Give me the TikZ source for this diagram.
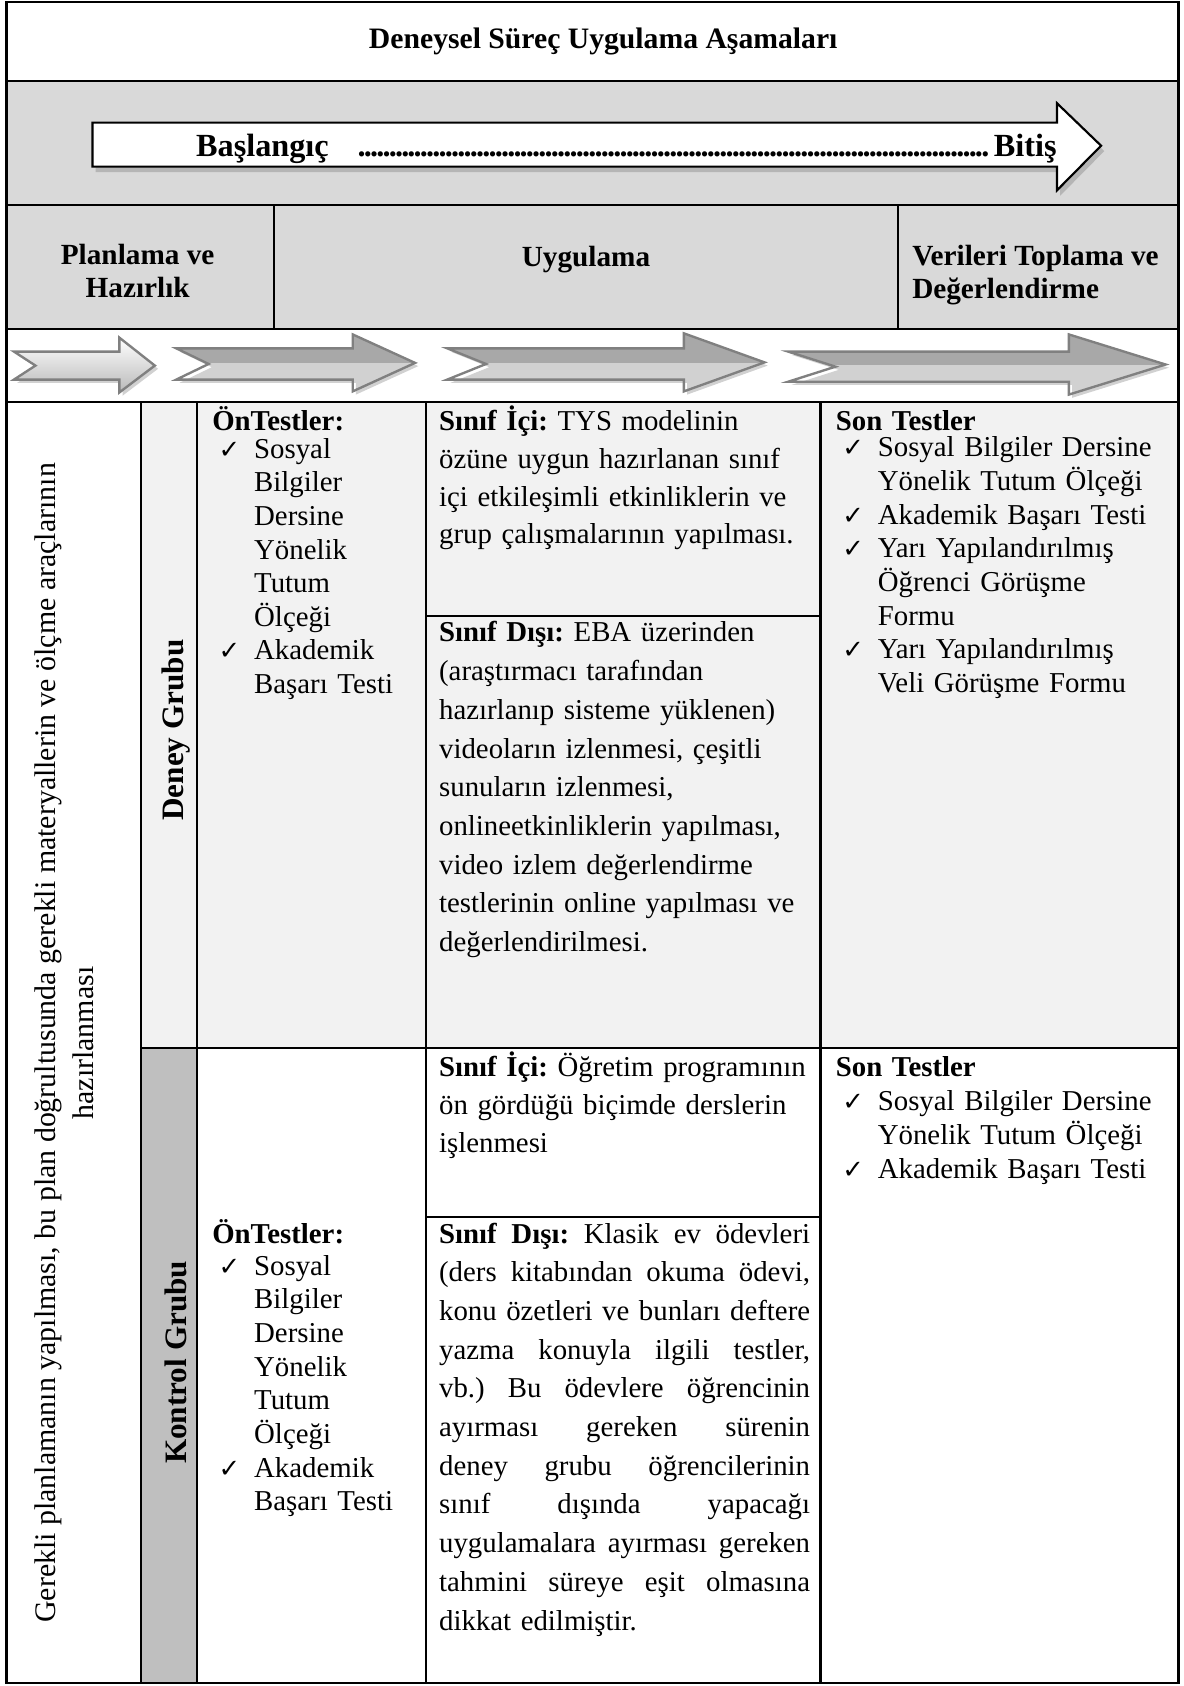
\documentclass[tikz,border=0pt]{standalone}
\usepackage{fontspec}
\setmainfont{Liberation Serif}
\newfontfamily\checkfont{DejaVu Sans}
\usetikzlibrary{shadows}
\frenchspacing

\definecolor{rowgray}{HTML}{D9D9D9}
\definecolor{cellgray}{HTML}{F2F2F2}
\definecolor{groupgray}{HTML}{BFBFBF}

\newcommand{\chkitem}{\makebox[19.5pt][l]{\hspace{3pt}{\checkfont\fontsize{12}{12}\selectfont ✓}}}
\newcommand{\chkpad}{\hspace*{19.5pt}}
\newcommand{\js}{\hskip 0.2em plus 1fill\relax}
\newcommand{\jline}[1]{\leavevmode\hbox to 172.5pt{#1}}

\tikzset{
  rule/.style={line width=1pt},
  headtext/.style={inner sep=0pt, font=\bfseries\fontsize{13.6}{15.5}\selectfont},
  bigtext/.style={inner sep=0pt, anchor=base west, font=\bfseries\fontsize{15}{18}\selectfont},
  grouptext/.style={inner sep=0pt, rotate=90, font=\bfseries\fontsize{14.5}{17}\selectfont},
  notetext/.style={inner sep=0pt, rotate=90, align=center, font=\fontsize{13.9}{17.5}\selectfont},
  listtext/.style={anchor=base west, inner sep=0pt, text width=170pt, align=left,
    font=\fontsize{13.4}{15.65}\selectfont},
  paratext/.style={anchor=base west, inner sep=0pt, text width=180pt, align=left,
    font=\fontsize{13.4}{#1}\selectfont},
  paratext/.default=18pt,
  arrowpiece/.style={draw=black!50, line width=1.1pt, line join=miter,
    drop shadow={shadow xshift=1.5pt, shadow yshift=-1.5pt, opacity=0.45, fill=gray!80}},
}

\begin{document}
\begin{tikzpicture}[x=0.5pt, y=-0.5pt]
\useasboundingbox (0,0) rectangle (1101,1568);

% backgrounds
\fill[rowgray] (6,75) rectangle (1096,306);
\fill[cellgray] (131,374) rectangle (1096,975);
\fill[groupgray] (131,975) rectangle (183,1565);

% Baslangic -> Bitis
\filldraw[fill=white, draw=black, line width=1pt,
  drop shadow={shadow xshift=1.5pt, shadow yshift=-2.5pt, opacity=0.4, fill=gray}]
  (86,114) -- (983,114) -- (983,96) -- (1024,135.5) -- (983,177) -- (983,155) -- (86,155) -- cycle;
\node[bigtext] (start) at (182,146) {Başlangıç};
\node[bigtext] (dots) at (333,146) {\makebox[294pt]{\leaders\hbox to 2.9pt{\hss.\hss}\hfill}};
\node[bigtext] (end) at (924,146) {Bitiş};

% phase arrows
\draw[arrowpiece, top color=white, bottom color=gray!55]
  (13,327) -- (111,327) -- (111,314) -- (144,340) -- (111,365) -- (111,353) -- (13,353) -- (33,340) -- cycle;
\foreach \tl/\nt/\hb/\tp/\st/\sb/\ht/\hd in {164/194/328/386/324/353/311/364,
    416/452/636/711/324/353/310/364, 733/777/994/1084/327/355/311/367}
  \draw[arrowpiece, top color=gray!20, middle color=gray!42, bottom color=gray!68]
    (\tl,\st) -- (\hb,\st) -- (\hb,\ht) -- (\tp,{(\ht+\hd)/2}) -- (\hb,\hd) -- (\hb,\sb)
    -- (\tl,\sb) -- (\nt,{(\st+\sb)/2}) -- cycle;

% rules
\draw[rule] (6,2) rectangle (1096,1565);
\foreach \y in {75,191,306,374}
  \draw[rule] (6,\y) -- (1096,\y);
\foreach \x in {255,835}
  \draw[rule] (\x,191) -- (\x,306);
\foreach \x in {131,183,396,763}
  \draw[rule] (\x,374) -- (\x,1565);
\draw[rule] (131,975) -- (1096,975);
\draw[rule] (396,573) -- (763,573);
\draw[rule] (396,1132) -- (763,1132);

% headings
\node[headtext, font=\bfseries\fontsize{13.8}{15.5}\selectfont] (title) at (561,39) {Deneysel Süreç Uygulama Aşamaları};
\node[headtext, align=center] (plan) at (128,252) {Planlama ve\\Hazırlık};
\node[headtext] (uyg) at (545,241) {Uygulama};
\node[headtext, align=left, anchor=west] (veri) at (848,256) {Verileri Toplama ve\\Değerlendirme};

% left column
\node[notetext] (note) at (60,970) {Gerekli planlamanın yapılması, bu plan doğrultusunda gerekli materyallerin ve ölçme araçlarının\\hazırlanması};
\node[grouptext] (deney) at (164,679) {Deney Grubu};
\node[grouptext] (kontrol) at (164,1267) {Kontrol Grubu};

% deney grubu
\node[listtext] (preD) at (197,400) {\textbf{ÖnTestler:}\\[-2.65pt]
  \chkitem Sosyal\\ \chkpad Bilgiler\\ \chkpad Dersine\\ \chkpad Yönelik\\
  \chkpad Tutum\\ \chkpad Ölçeği\\ \chkitem Akademik\\ \chkpad Başarı Testi};
\node[paratext=17.65pt] (inD) at (408,400) {\textbf{Sınıf İçi:} TYS modelinin\\
  özüne uygun hazırlanan sınıf\\ içi etkileşimli etkinliklerin ve\\
  grup çalışmalarının yapılması.};
\node[paratext] (outD) at (408,597) {\textbf{Sınıf Dışı:} EBA üzerinden\\
  (araştırmacı tarafından\\ hazırlanıp sisteme yüklenen)\\ videoların izlenmesi, çeşitli\\
  sunuların izlenmesi,\\ onlineetkinliklerin yapılması,\\ video izlem değerlendirme\\
  testlerinin online yapılması ve\\ değerlendirilmesi.};
\node[listtext] (postD) at (777,400) {\textbf{Son Testler}\\[-3.15pt]
  \chkitem Sosyal Bilgiler Dersine\\ \chkpad Yönelik Tutum Ölçeği\\
  \chkitem Akademik Başarı Testi\\ \chkitem Yarı Yapılandırılmış\\
  \chkpad Öğrenci Görüşme\\ \chkpad Formu\\ \chkitem Yarı Yapılandırılmış\\
  \chkpad Veli Görüşme Formu};

% kontrol grubu
\node[listtext] (preK) at (197,1156) {\textbf{ÖnTestler:}\\[-0.65pt]
  \chkitem Sosyal\\ \chkpad Bilgiler\\ \chkpad Dersine\\ \chkpad Yönelik\\
  \chkpad Tutum\\ \chkpad Ölçeği\\ \chkitem Akademik\\ \chkpad Başarı Testi};
\node[paratext=17.75pt] (inK) at (408,1001) {\textbf{Sınıf İçi:} Öğretim programının\\
  ön gördüğü biçimde derslerin\\ işlenmesi};
\node[paratext] (outK) at (408,1156) {\jline{\textbf{Sınıf\js Dışı:}\js Klasik\js ev\js ödevleri}\\
  \jline{(ders\js kitabından\js okuma\js ödevi,}\\
  \jline{konu\js özetleri\js ve\js bunları\js deftere}\\
  \jline{yazma\js konuyla\js ilgili\js testler,}\\
  \jline{vb.)\js Bu\js ödevlere\js öğrencinin}\\
  \jline{ayırması\js gereken\js sürenin}\\
  \jline{deney\js grubu\js öğrencilerinin}\\
  \jline{sınıf\js dışında\js yapacağı}\\
  \jline{uygulamalara\js ayırması\js gereken}\\
  \jline{tahmini\js süreye\js eşit\js olmasına}\\
  dikkat edilmiştir.};
\node[listtext] (postK) at (777,1001) {\textbf{Son Testler}\\[0.35pt]
  \chkitem Sosyal Bilgiler Dersine\\ \chkpad Yönelik Tutum Ölçeği\\
  \chkitem Akademik Başarı Testi};
\end{tikzpicture}
\end{document}
